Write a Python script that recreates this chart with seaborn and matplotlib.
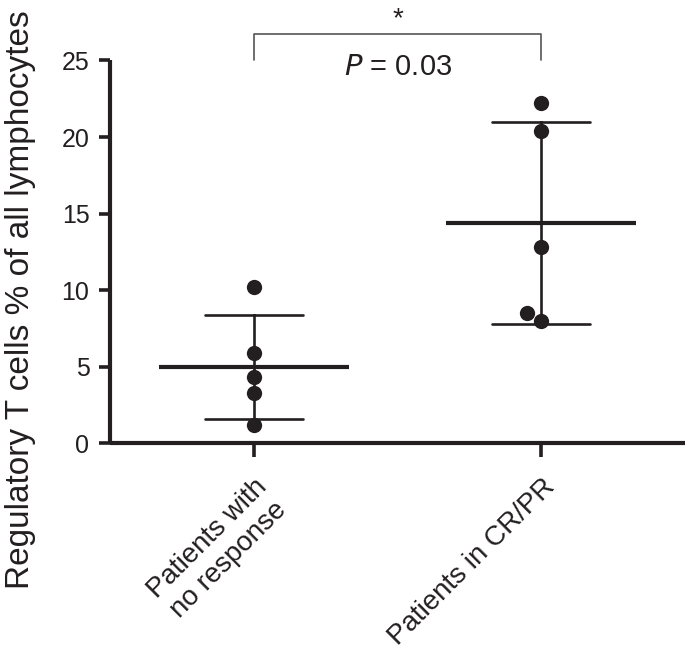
import matplotlib
matplotlib.use("Agg")
import matplotlib.pyplot as plt
import seaborn as sns
import pandas as pd

# ---- data ----
groups = ["Patients with\nno response", "Patients in CR/PR"]
no_response = [10.2, 5.9, 4.3, 3.3, 1.2]
cr_pr = [22.2, 20.4, 12.8, 8.5, 8.0]
y_ticks = [0, 5, 10, 15, 20, 25]
y_label = "Regulatory T cells % of all lymphocytes"
p_text = "= 0.03"
star_text = "*"

df = pd.DataFrame({
    "group": [groups[0]] * len(no_response) + [groups[1]] * len(cr_pr),
    "value": no_response + cr_pr,
})

INK = "#231f20"
sns.set_theme(style="white")
plt.rcParams["font.family"] = ["Liberation Sans", "DejaVu Sans"]

fig = plt.figure(figsize=(6.85, 6.5), dpi=100)
ax = fig.add_axes([0.161, 0.318, 0.839, 0.589])

sns.pointplot(data=df, x="group", y="value", order=groups, errorbar="sd",
              capsize=0.34, linestyle="none", markers="_", markersize=137,
              markeredgewidth=3.0, color=INK,
              err_kws={"linewidth": 1.9, "color": INK}, ax=ax, zorder=2)
sns.swarmplot(data=df, x="group", y="value", order=groups, color=INK,
              size=11, ax=ax, zorder=3)

ax.set_xlim(-0.5, 1.5)
ax.set_ylim(0, 25)
ax.set_yticks(y_ticks)
ax.set_xlabel("")
ax.set_ylabel(y_label, fontsize=24, color=INK)
ax.yaxis.set_label_coords(-0.13, 0.375)

for s in ["top", "right"]:
    ax.spines[s].set_visible(False)
for s in ["left", "bottom"]:
    ax.spines[s].set_linewidth(3.0)
    ax.spines[s].set_color(INK)
    ax.spines[s].set_capstyle("butt")

ax.tick_params(axis="y", direction="out", length=8, width=2.6, color=INK,
               labelsize=18, labelcolor=INK, pad=7, left=True)
ax.tick_params(axis="x", direction="out", length=10, width=2.6, color=INK,
               labelsize=20, labelcolor=INK, pad=12, bottom=True)
for lab in ax.get_xticklabels():
    lab.set_rotation(45)
    lab.set_ha("right")
    lab.set_va("top")
    lab.set_rotation_mode("anchor")
    lab.set_multialignment("center")

# significance bracket
ax.plot([0, 0, 1, 1], [25.05, 26.7, 26.7, 25.05], color="#555555",
        linewidth=1.2, clip_on=False)
ax.text(0.5, 27.7, star_text, ha="center", va="center", fontsize=20, color=INK)
ax.text(0.5, 24.55, "$\\it{P}$ " + p_text, ha="center", va="center", fontsize=21,
        color=INK)

fig.savefig("out.png", dpi=100)
